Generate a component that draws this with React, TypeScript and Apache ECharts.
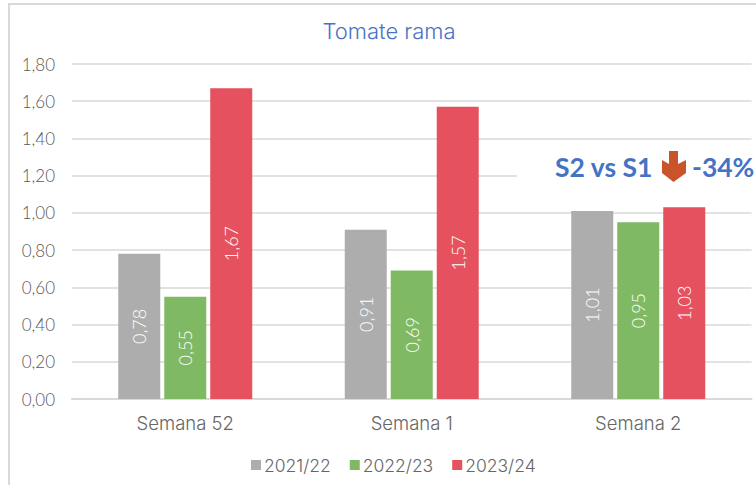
import React, { useEffect, useRef } from "react";
import * as echarts from "echarts";

const categories = ["Semana 52", "Semana 1", "Semana 2"];
const seriesNames = ["2021/22", "2022/23", "2023/24"];
const values2122 = [0.78, 0.91, 1.01];
const values2223 = [0.55, 0.69, 0.95];
const values2324 = [1.67, 1.57, 1.03];
const colors = ["#ADADAD", "#7FB964", "#E5515E"];
const FONT = "Lato";
const WIDE = "Inter";

const fmt = (v: number) => v.toFixed(2).replace(".", ",");

echarts.graphic.registerShape(
  "downArrow",
  echarts.graphic.extendPath("M8 0L17 0L17 13L25 9L25 22L12.5 31L1 22L1 9L8 13Z", {}) as any
);

export default function App() {
  const ref = useRef<HTMLDivElement>(null);
  useEffect(() => {
    const chart = echarts.init(ref.current!, undefined, { renderer: "svg" });
    const makeSeries = (name: string, data: number[], color: string) => ({
      name,
      type: "bar",
      data,
      barWidth: 42,
      barGap: "9.5%",
      itemStyle: { color },
      label: {
        show: true,
        position: "inside",
        rotate: 90,
        align: "center",
        verticalAlign: "middle",
        color: "#ffffff",
        fontFamily: FONT,
        fontSize: 18,
        fontWeight: 300,
        formatter: (p: any) => fmt(p.value),
      },
    });
    chart.setOption({
      animation: false,
      backgroundColor: "#ffffff",
      title: {
        text: "Tomate rama",
        left: 384,
        top: 15,
        textAlign: "center",
        textStyle: { color: "#4A73C4", fontFamily: WIDE, fontSize: 22, fontWeight: 300 },
      },
      legend: {
        data: seriesNames,
        left: 246,
        top: 451,
        itemWidth: 10,
        itemHeight: 10,
        itemGap: 19,
        icon: "rect",
        textStyle: { color: "#666666", fontFamily: WIDE, fontSize: 17.5, fontWeight: 300, padding: [0, 0, 0, -2] },
      },
      grid: { left: 72, right: 4.5, top: 64, bottom: 86, containLabel: false },
      xAxis: {
        type: "category",
        data: categories,
        axisTick: { show: false },
        axisLine: { lineStyle: { color: "#D9D9D9", width: 2 } },
        axisLabel: { color: "#666666", fontFamily: WIDE, fontSize: 18.5, fontWeight: 300, margin: 14 },
      },
      yAxis: {
        type: "value",
        min: 0,
        max: 1.8,
        interval: 0.2,
        axisLine: { show: false },
        axisTick: { show: false },
        splitLine: { lineStyle: { color: "#D9D9D9", width: 1.5 } },
        axisLabel: {
          color: "#595959",
          fontFamily: FONT,
          fontSize: 17,
          fontWeight: 300,
          margin: 17,
          formatter: (v: number) => fmt(v),
        },
      },
      graphic: [
        {
          type: "rect",
          z: 0,
          shape: { x: 9, y: 4, width: 760, height: 500 },
          style: { fill: "none", stroke: "#D9D9D9", lineWidth: 2 },
        },
        {
          type: "rect",
          z: 1,
          shape: { x: 517, y: 150, width: 239, height: 50 },
          style: { fill: "#ffffff" },
        },
        {
          type: "text",
          z: 3,
          x: 555,
          y: 153,
          style: {
            text: "S2 vs S1",
            fill: "#4472C4",
            font: `bold 26.5px ${FONT}`,
          },
        },
        { type: "downArrow", z: 3, x: 661, y: 151, style: { fill: "#C9532B" } },
        {
          type: "text",
          z: 3,
          x: 692,
          y: 153,
          style: {
            text: "-34%",
            fill: "#4472C4",
            font: `bold 26.5px ${FONT}`,
          },
        },
      ],
      series: [
        makeSeries(seriesNames[0], values2122, colors[0]),
        makeSeries(seriesNames[1], values2223, colors[1]),
        makeSeries(seriesNames[2], values2324, colors[2]),
      ],
    });
    return () => chart.dispose();
  }, []);
  return <div ref={ref} style={{ position: "fixed", left: 0, top: 0, width: 756, height: 485 }} />;
}
